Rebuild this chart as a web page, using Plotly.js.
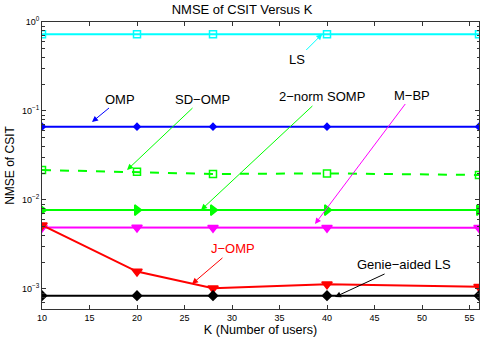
<!DOCTYPE html>
<html>
<head>
<meta charset="utf-8">
<script src="https://cdn.plot.ly/plotly-3.0.1.min.js"></script>
<style>html,body{margin:0;padding:0;background:#fff;}#chart{width:484px;height:340px;}</style>
</head>
<body>
<div id="chart"></div>
<script>
var K = [10, 20, 28, 40, 56];
var ls = [0.73, 0.73, 0.73, 0.73, 0.73];
var omp = [0.0667, 0.0667, 0.0667, 0.0667, 0.0667];
var sdomp = [0.0217, 0.0207, 0.0196, 0.0199, 0.0191];
var somp2 = [0.0077, 0.0077, 0.0077, 0.0077, 0.0077];
var mbp = [0.0049, 0.0049, 0.00487, 0.00487, 0.00487];
var jomp = [0.0052, 0.00157, 0.00102, 0.00113, 0.00106];
var genie = [0.00084, 0.00084, 0.00084, 0.00084, 0.00084];

var yTickVals = [0.001, 0.01, 0.1, 1];
var yTickText = ['10<sup>\u22123</sup>', '10<sup>\u22122</sup>', '10<sup>\u22121</sup>', '10<sup>0</sup>'];
var xTickVals = [10, 15, 20, 25, 30, 35, 40, 45, 50, 55];

var minorVals = [];
for (var e = -4; e < 0; e++) {
  for (var m = 2; m <= 9; m++) minorVals.push(m * Math.pow(10, e));
}

function tr(y, name, color, sym, size, dash, mcolor) {
  return {
    x: K, y: y, name: name, type: 'scatter', mode: 'lines+markers',
    line: {color: color, width: 2, dash: dash || 'solid'},
    marker: {symbol: sym, size: size, color: mcolor || color, line: {color: color, width: 1.5}}
  };
}

var data = [
  tr(ls, 'LS', '#00ffff', 'square-open', 7),
  tr(omp, 'OMP', '#0000ff', 'diamond', 5),
  tr(sdomp, 'SD-OMP', '#00ff00', 'square-open', 7, 'dash'),
  tr(somp2, '2-norm SOMP', '#00ff00', 'triangle-right', 9),
  tr(mbp, 'M-BP', '#ff00ff', 'triangle-down', 9),
  tr(jomp, 'J-OMP', '#ff0000', 'triangle-down', 9),
  tr(genie, 'Genie-aided LS', '#000000', 'diamond', 7)
];

function ann(text, x, y, ax, ay, color, tcolor) {
  return {
    text: text, x: x, y: Math.log10(y), xref: 'x', yref: 'y',
    ax: ax, ay: ay, showarrow: true, arrowhead: 2, arrowsize: 1.2, arrowwidth: 1,
    arrowcolor: color, font: {family: 'Liberation Sans, Arial, sans-serif', size: 13, color: tcolor || '#000'}
  };
}

var layout = {
  width: 484, height: 340,
  margin: {l: 42, r: 5, t: 22, b: 31},
  paper_bgcolor: '#fff', plot_bgcolor: '#fff',
  showlegend: false,
  font: {family: 'Liberation Sans, Arial, sans-serif', size: 9, color: '#000'},
  title: {text: 'NMSE of CSIT Versus K', x: 0.5, xanchor: 'center', y: 0.985, yanchor: 'top',
          font: {size: 13, color: '#000'}},
  xaxis: {
    range: [10, 56], tickmode: 'array', tickvals: xTickVals,
    ticks: 'inside', ticklen: 4, tickcolor: '#333',
    showline: true, linecolor: '#333', linewidth: 1, mirror: 'ticks',
    showgrid: false, zeroline: false,
    tickfont: {size: 9},
    title: {text: 'K (Number of users)', font: {size: 12.6}, standoff: 1}
  },
  yaxis: {
    type: 'log', range: [-3.225, 0],
    tickmode: 'array', tickvals: yTickVals, ticktext: yTickText,
    ticks: 'inside', ticklen: 4, tickcolor: '#333',
    minor: {tickmode: 'array', tickvals: minorVals, ticks: 'inside', ticklen: 2.5, tickcolor: '#333', showgrid: false},
    showline: true, linecolor: '#333', linewidth: 1, mirror: 'ticks',
    showgrid: false, zeroline: false,
    tickfont: {size: 9},
    title: {text: 'NMSE of CSIT', font: {size: 12}, standoff: 4}
  },
  annotations: [
    ann('LS', 39.5, 0.733, -25, 25, '#00ffff'),
    ann('OMP', 15.26, 0.0752, 28, -23, '#0000ff'),
    ann('SD\u2212OMP', 18.95, 0.0217, 75, -71, '#00ff00'),
    ann('2\u2212norm SOMP', 26.74, 0.00772, 121, -113, '#00ff00'),
    ann('M\u2212BP', 38.74, 0.00537, 97, -129, '#ff00ff'),
    ann('J\u2212OMP', 25.79, 0.00114, 41, -35, '#ff0000', '#ff0000'),
    ann('Genie\u2212aided LS', 40.84, 0.000813, 69, -32, '#000000')
  ]
};

Plotly.newPlot('chart', data, layout, {displayModeBar: false, staticPlot: true});
</script>
</body>
</html>
